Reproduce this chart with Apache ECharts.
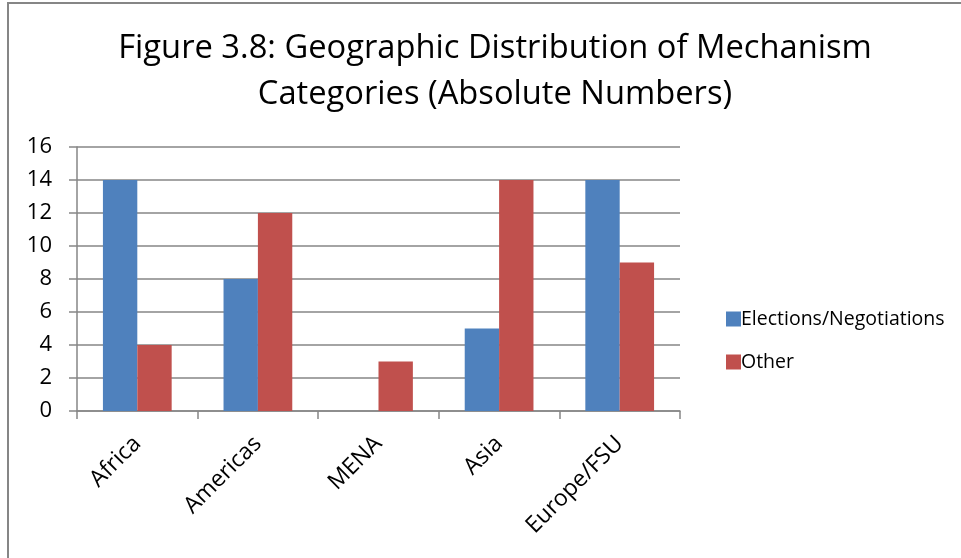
<!DOCTYPE html>
<html><head><meta charset="utf-8">
<script src="https://cdn.jsdelivr.net/npm/echarts@6/dist/echarts.min.js"></script>
<style>html,body{margin:0;padding:0;background:#fff}#c{width:961px;height:558px}</style>
</head><body><div id="c"></div>
<script>
const categories = ['Africa', 'Americas', 'MENA', 'Asia', 'Europe/FSU'];
const electionsNegotiations = [14, 8, 0, 5, 14];
const other = [4, 12, 3, 14, 9];
const yTicks = [0, 2, 4, 6, 8, 10, 12, 14, 16];

const font = 'Open Sans';
const chart = echarts.init(document.getElementById('c'));
chart.setOption({
  animation: false,
  backgroundColor: '#fff',
  title: {
    text: 'Figure 3.8: Geographic Distribution of Mechanism\nCategories (Absolute Numbers)',
    left: 490, top: 21, textAlign: 'center',
    textStyle: { fontFamily: font, fontSize: 32.7, fontWeight: 'normal', color: '#000', lineHeight: 46 }
  },
  graphic: [
    { type: 'line', shape: { x1: 8, y1: 3, x2: 8, y2: 558 }, style: { stroke: '#868686', lineWidth: 2 } },
    { type: 'line', shape: { x1: 7, y1: 3, x2: 961, y2: 3 }, style: { stroke: '#868686', lineWidth: 2 } }
  ],
  legend: {
    orient: 'vertical', left: 721, top: 304, itemWidth: 15, itemHeight: 15, itemGap: 23,
    icon: 'rect',
    textStyle: { fontFamily: font, fontSize: 19.5, color: '#000', padding: [0, 0, 0, -5] },
    data: ['Elections/Negotiations', 'Other']
  },
  grid: { left: 77, right: 281, top: 147, bottom: 147, containLabel: false },
  xAxis: {
    type: 'category', data: categories,
    axisLine: { lineStyle: { color: '#868686', width: 1.5 } },
    axisTick: { show: true, length: 8, alignWithLabel: false, lineStyle: { color: '#868686', width: 1.5 } },
    axisLabel: { rotate: 45, fontFamily: font, fontSize: 23, color: '#000', margin: 29, interval: 0 }
  },
  yAxis: {
    type: 'value', min: 0, max: 16, interval: 2,
    axisLine: { show: true, lineStyle: { color: '#868686', width: 1.5 } },
    axisTick: { show: true, length: 8, inside: false, lineStyle: { color: '#868686', width: 1.5 } },
    splitLine: { lineStyle: { color: '#868686', width: 1.5 } },
    axisLabel: { fontFamily: font, fontSize: 22, color: '#000', margin: 25,
      formatter: v => yTicks.includes(v) ? String(v) : '' }
  },
  series: [
    { name: 'Elections/Negotiations', type: 'bar', data: electionsNegotiations, barGap: '0%', barCategoryGap: '43%',
      itemStyle: { color: '#4F81BD' } },
    { name: 'Other', type: 'bar', data: other, barGap: '0%', barCategoryGap: '43%',
      itemStyle: { color: '#C0504D' } }
  ]
});
</script></body></html>
